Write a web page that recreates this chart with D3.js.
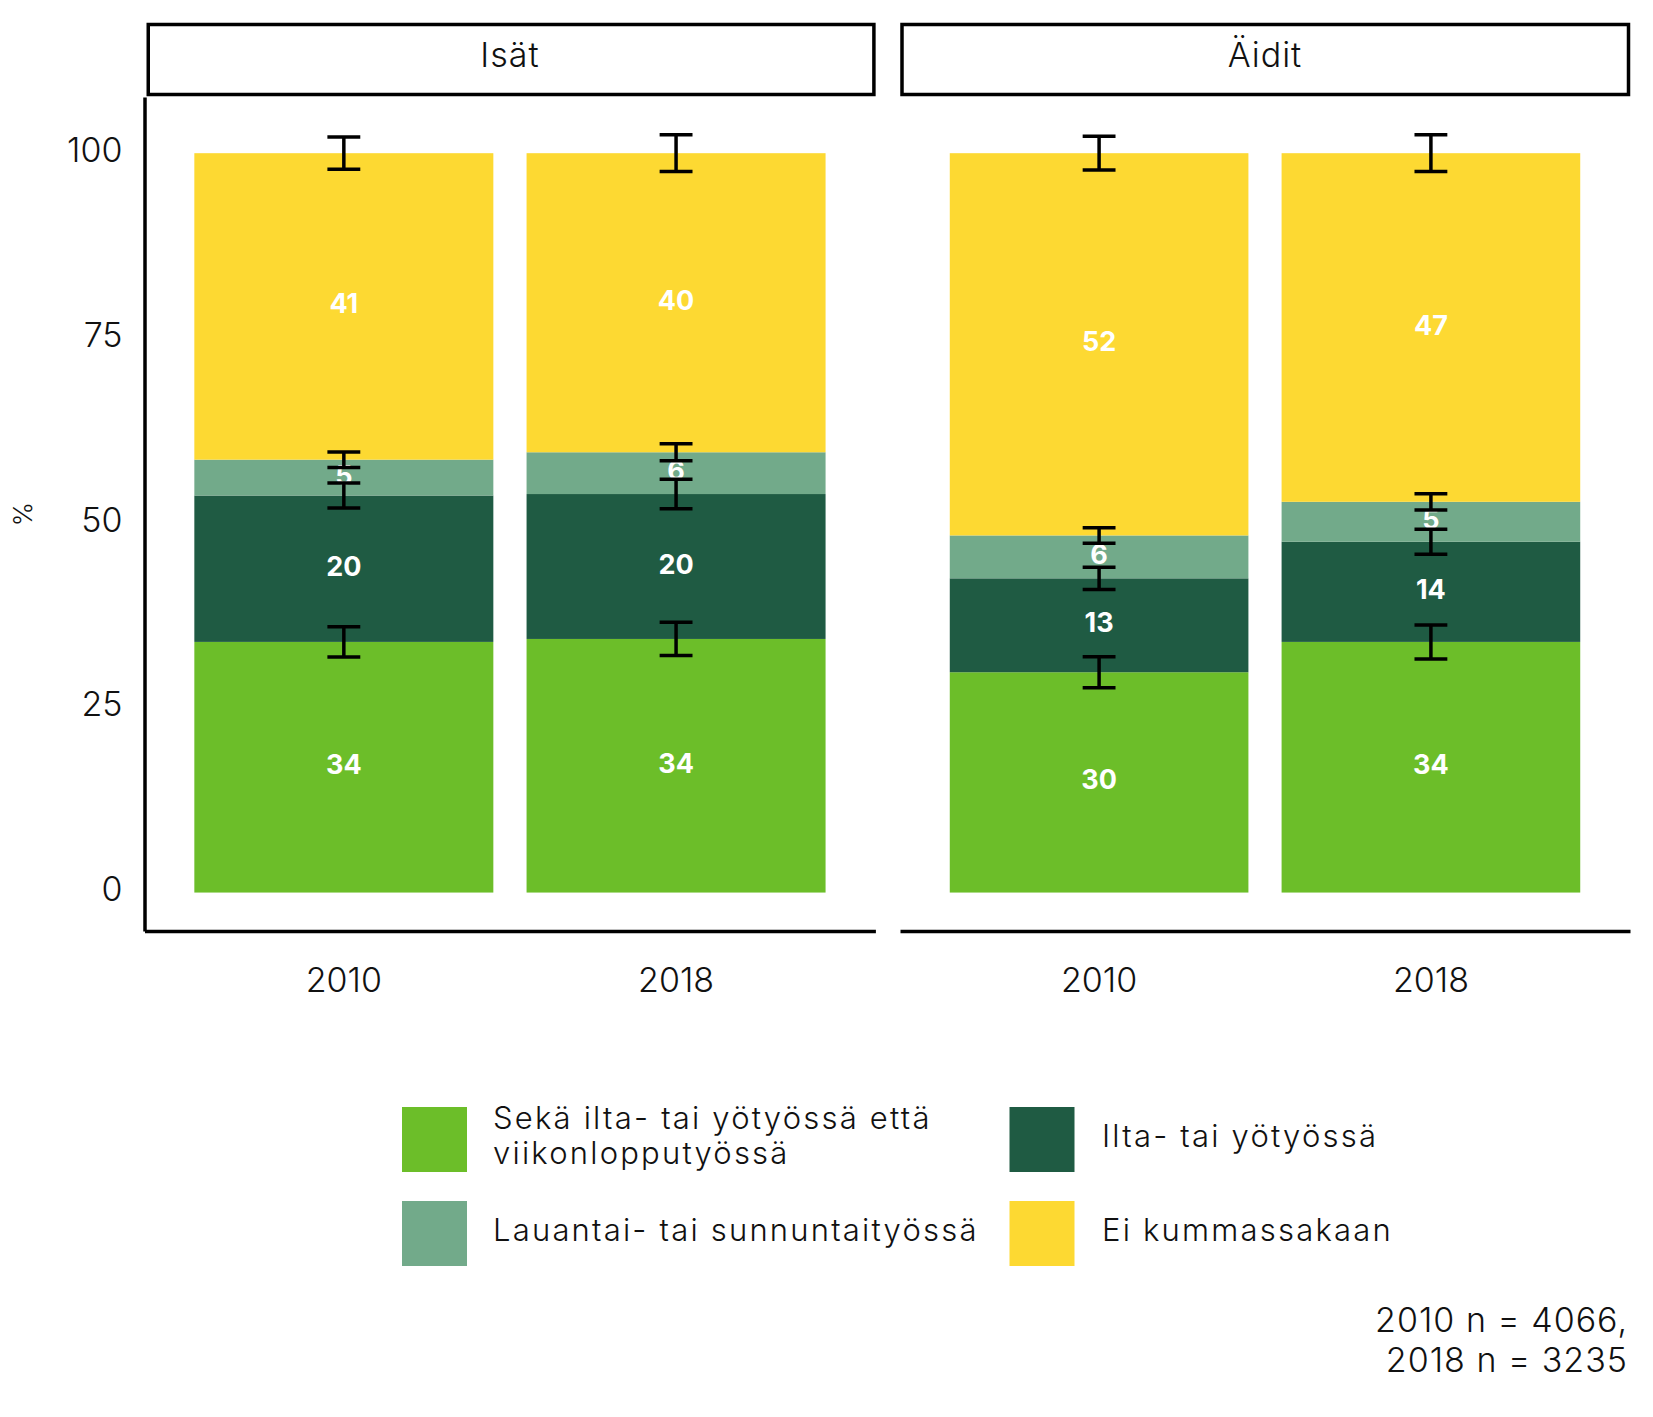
<!DOCTYPE html>
<html><head><meta charset="utf-8">
<script src="https://cdn.jsdelivr.net/npm/d3@7"></script>
<style>
body{margin:0;background:#fff}
text{font-family:Inter,'Open Sans',sans-serif;}
</style>
</head><body>
<svg id="chart" width="1653" height="1417"></svg>
<script>
// ---- data ----
const panels = ["Isät", "Äidit"];
const years = ["2010", "2018"];
const categories = [
  "Sekä ilta- tai yötyössä että viikonlopputyössä",
  "Ilta- tai yötyössä",
  "Lauantai- tai sunnuntaityössä",
  "Ei kummassakaan"
];
const legendLines = [
  ["Sekä ilta- tai yötyössä että", "viikonlopputyössä"],
  ["Ilta- tai yötyössä"],
  ["Lauantai- tai sunnuntaityössä"],
  ["Ei kummassakaan"]
];
const colors = ["#6cbe29", "#1f5b43", "#72aa8a", "#fdd932"];
// shares (%) in stack order bottom -> top
const isat2010 = [33.9, 19.8, 4.85, 41.45];
const isat2018 = [34.3, 19.6, 5.65, 40.45];
const aidit2010 = [29.8, 12.7, 5.8, 51.7];
const aidit2018 = [33.9, 13.55, 5.4, 47.15];
// half-widths of confidence intervals at the cumulative tops
const isat2010Err = [2.05, 1.7, 1.05, 2.18];
const isat2018Err = [2.25, 2.0, 1.15, 2.48];
const aidit2010Err = [2.1, 1.5, 1.05, 2.28];
const aidit2018Err = [2.3, 1.68, 1.1, 2.48];
const yTicks = [0, 25, 50, 75, 100];
const yTitle = "%";
const captionLines = ["2010 n = 4066,", "2018 n = 3235"];

// ---- build rows ----
const rows = [
  {panel: "Isät", year: "2010", vals: isat2010, err: isat2010Err},
  {panel: "Isät", year: "2018", vals: isat2018, err: isat2018Err},
  {panel: "Äidit", year: "2010", vals: aidit2010, err: aidit2010Err},
  {panel: "Äidit", year: "2018", vals: aidit2018, err: aidit2018Err}
].map(r => {
  const o = {panel: r.panel, year: r.year, err: r.err};
  categories.forEach((c, i) => o[c] = r.vals[i]);
  return o;
});

const svg = d3.select("#chart");
svg.append("rect").attr("width", 1653).attr("height", 1417).attr("fill", "#fff");

const panelRanges = [[144.5, 875.4], [900, 1630]];
const panelTop = 97, panelBottom = 931;
const y = d3.scaleLinear().domain([-5.2, 107.6]).range([panelBottom, panelTop]);
const stack = d3.stack().keys(categories);

panels.forEach((p, pi) => {
  const pr = panelRanges[pi];
  const x = d3.scaleBand().domain(years).range(pr).paddingInner(0.1).paddingOuter(0.15);
  const pdata = rows.filter(r => r.panel === p);
  const series = stack(pdata);
  const g = svg.append("g");

  // strip
  g.append("rect")
    .attr("x", pr[0] + 2 + (pi === 0 ? 1.75 : 0)).attr("y", 24.5)
    .attr("width", pr[1] - pr[0] - 3.5 - (pi === 0 ? 1.75 : 0)).attr("height", 70)
    .attr("fill", "#fff").attr("stroke", "#000").attr("stroke-width", 3.5);
  g.append("text")
    .attr("x", (pr[0] + pr[1]) / 2).attr("y", 67)
    .attr("text-anchor", "middle").attr("font-size", 34).attr("font-weight", 300)
    .attr("letter-spacing", 1)
    .attr("fill", "#111").text(p);

  // bars
  series.forEach((s, si) => {
    g.append("g").selectAll("rect").data(s).join("rect")
      .attr("x", d => x(d.data.year))
      .attr("width", x.bandwidth())
      .attr("y", d => y(d[1]))
      .attr("height", d => y(d[0]) - y(d[1]))
      .attr("fill", colors[si]);
  });
  // labels
  series.forEach((s, si) => {
    g.append("g").selectAll("text").data(s).join("text")
      .attr("x", d => x(d.data.year) + x.bandwidth() / 2)
      .attr("y", d => y((d[0] + d[1]) / 2))
      .attr("dy", "0.26em")
      .attr("text-anchor", "middle")
      .attr("font-size", 27).attr("font-weight", 700)
      .attr("fill", "#fff")
      .text(d => Math.round(d[1] - d[0]));
  });
  // error bars
  const capW = x.bandwidth() * 0.11;
  series.forEach((s, si) => {
    const eg = g.append("g").attr("stroke", "#000").attr("stroke-width", 3.5);
    s.forEach(d => {
      const cx = x(d.data.year) + x.bandwidth() / 2;
      const e = d.data.err[si];
      const lo = y(d[1] - e), hi = y(d[1] + e);
      eg.append("line").attr("x1", cx).attr("x2", cx).attr("y1", lo).attr("y2", hi);
      eg.append("line").attr("x1", cx - capW / 2).attr("x2", cx + capW / 2).attr("y1", lo).attr("y2", lo);
      eg.append("line").attr("x1", cx - capW / 2).attr("x2", cx + capW / 2).attr("y1", hi).attr("y2", hi);
    });
  });

  // x axis
  const xa = g.append("g").attr("transform", `translate(0,${panelBottom})`)
    .call(d3.axisBottom(x).tickSize(0).tickSizeOuter(0).tickPadding(37));
  xa.select(".domain").attr("stroke", "#000").attr("stroke-width", 3.5);
  xa.selectAll("text").attr("font-size", 34).attr("font-weight", 300).attr("fill", "#111")
    .attr("font-family", "Inter,'Open Sans',sans-serif");

  // y axis (first panel only)
  if (pi === 0) {
    const ya = g.append("g").attr("transform", `translate(${pr[0]},0)`)
      .call(d3.axisLeft(y).tickValues(yTicks).tickSize(0).tickSizeOuter(0).tickPadding(22));
    ya.select(".domain").attr("stroke", "#000").attr("stroke-width", 3.5);
    ya.selectAll("text").attr("font-size", 34).attr("font-weight", 300).attr("fill", "#111")
      .attr("dy", "0.24em").attr("font-family", "Inter,'Open Sans',sans-serif");
  }
});

// y title
svg.append("text")
  .attr("transform", `translate(32,${(panelTop + panelBottom) / 2}) rotate(-90)`)
  .attr("text-anchor", "middle").attr("font-size", 26).attr("font-weight", 300)
  .attr("fill", "#111").text(yTitle);

// legend
const legendPos = [
  {x: 402, y: 1107, tx: 493},
  {x: 1009.5, y: 1107, tx: 1102},
  {x: 402, y: 1201, tx: 493},
  {x: 1009.5, y: 1201, tx: 1102}
];
const keySize = 65;
const lg = svg.append("g");
categories.forEach((c, i) => {
  const p = legendPos[i];
  lg.append("rect").attr("x", p.x).attr("y", p.y).attr("width", keySize).attr("height", keySize)
    .attr("fill", colors[i]);
  const lines = legendLines[i];
  const cy = p.y + keySize / 2 - 4;
  const lh = 35;
  const first = cy - (lines.length - 1) * lh / 2;
  lines.forEach((ln, li) => {
    lg.append("text").attr("x", p.tx).attr("y", first + li * lh).attr("dy", "0.36em")
      .attr("font-size", 31).attr("font-weight", 300).attr("letter-spacing", 2.2)
      .attr("fill", "#111").text(ln);
  });
});

// caption
captionLines.forEach((t, i) => {
  svg.append("text").attr("x", 1628).attr("y", 1332 + i * 40)
    .attr("text-anchor", "end").attr("font-size", 34).attr("font-weight", 300)
    .attr("letter-spacing", 1)
    .attr("fill", "#111").text(t);
});
</script>
</body></html>
